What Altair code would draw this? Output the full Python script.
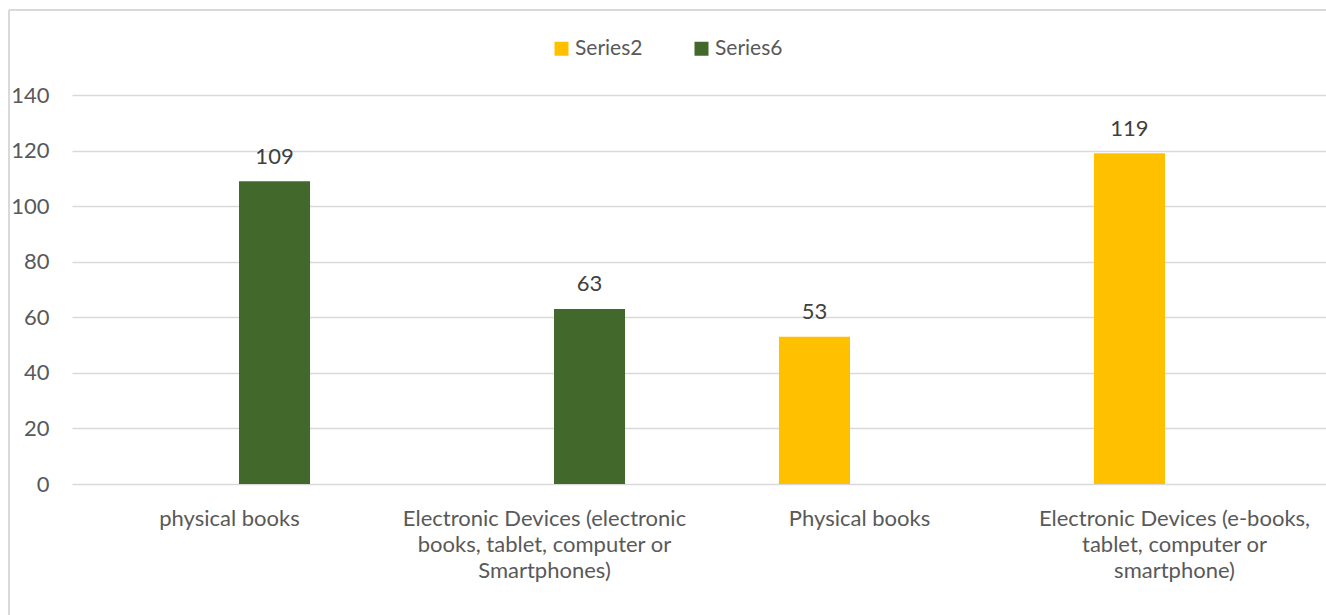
import altair as alt
import pandas as pd

categories = [
    "physical books",
    "Electronic Devices (electronic|books, tablet, computer or|Smartphones)",
    "Physical books",
    "Electronic Devices (e-books,|tablet, computer or|smartphone)",
]
series = ["Series6", "Series6", "Series2", "Series2"]
values = [109, 63, 53, 119]
series_order = ["Series2", "Series6"]
series_colors = ["#FFC000", "#43682B"]
y_ticks = [0, 20, 40, 60, 80, 100, 120, 140]

df = pd.DataFrame({"category": categories, "series": series, "value": values})

FONT = "Lato"
GRID = "#D9D9D9"
TXT = "#595959"

W, H = 1254, 389

x_enc = alt.X(
    "category:N",
    sort=categories,
    scale=alt.Scale(range=[0, 1260], paddingInner=0, paddingOuter=0),
    axis=alt.Axis(
        title=None, domain=False, ticks=False, labelAngle=0,
        labelExpr="split(datum.value, '|')",
        labelFont=FONT, labelFontSize=22, labelColor=TXT,
        labelLineHeight=26, labelPadding=24, labelBaseline="top",
        labelLimit=400,
    ),
)
xoff_enc = alt.XOffset(
    "series:N",
    scale=alt.Scale(domain=series_order, paddingInner=0.211, paddingOuter=0.855),
)
y_enc = alt.Y(
    "value:Q",
    scale=alt.Scale(domain=[0, 140], nice=False),
    axis=alt.Axis(
        title=None, domain=False, ticks=False, values=y_ticks,
        grid=True, gridColor=GRID, gridWidth=1.3,
        labelFont=FONT, labelFontSize=22, labelColor=TXT, labelPadding=23,
    ),
)

bars = alt.Chart(df).mark_bar().encode(
    x=x_enc,
    xOffset=xoff_enc,
    y=y_enc,
    color=alt.Color(
        "series:N",
        scale=alt.Scale(domain=series_order, range=series_colors),
        legend=alt.Legend(
            title=None, orient="none", direction="horizontal",
            legendX=479, legendY=-57,
            symbolType="square", symbolSize=196, symbolStrokeWidth=0,
            labelFont=FONT, labelFontSize=21, labelColor=TXT,
            labelOffset=3, columnPadding=48, padding=0,
        ),
    ),
)

labels = alt.Chart(df).mark_text(
    dy=-17.5, baseline="alphabetic", font=FONT, fontSize=22, color="#404040"
).encode(
    x=alt.X("category:N", sort=categories),
    xOffset=alt.XOffset("series:N"),
    y=alt.Y("value:Q"),
    text=alt.Text("value:Q"),
)

border_left = alt.Chart(df).mark_rule(color=GRID, strokeWidth=1.5).encode(
    x=alt.value(-63), y=alt.value(-85), y2=alt.value(H + 131)
)
border_top = alt.Chart(df).mark_rule(color=GRID, strokeWidth=1.5).encode(
    x=alt.value(-63), x2=alt.value(W), y=alt.value(-85)
)

chart = alt.layer(border_left, border_top, bars, labels).properties(
    width=W, height=H,
    autosize=alt.AutoSizeParams(type="none"),
    padding={"left": 72, "top": 95, "right": 0, "bottom": 131},
    background="white",
).configure_view(stroke=None)

chart.save("out.html", embed_options={"renderer": "svg", "actions": False})
